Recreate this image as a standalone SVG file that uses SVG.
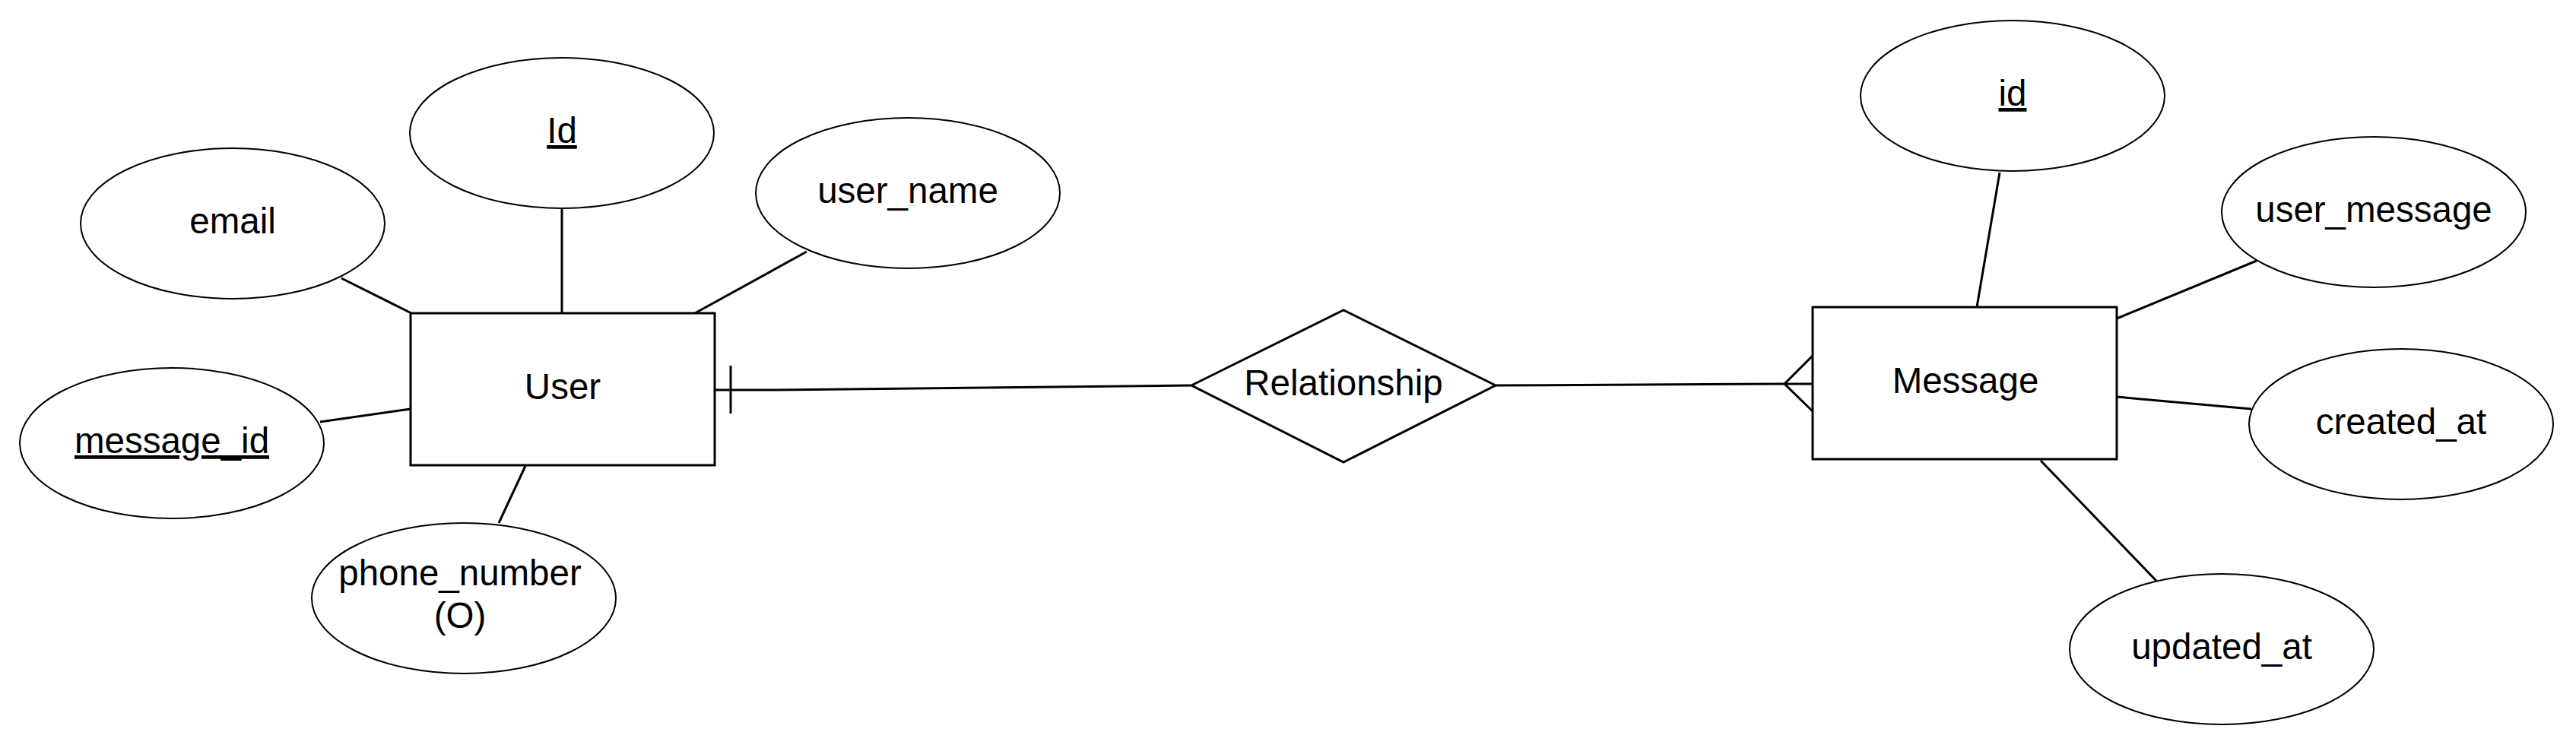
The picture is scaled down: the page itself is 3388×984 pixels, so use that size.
<svg xmlns="http://www.w3.org/2000/svg" width="3388" height="984" viewBox="0 0 3388 984">
<style>
.bg{fill:#fff}
.ent{fill:#fff;stroke:#000;stroke-width:3}
.att{fill:#fff;stroke:#000;stroke-width:2}
.rel{fill:#fff;stroke:#000;stroke-width:3}
.con{fill:none;stroke:#000;stroke-width:3}
text{font-family:"Liberation Sans",Arial,sans-serif;font-size:47.5px;fill:#000;text-anchor:middle}
.u{text-decoration:underline}
</style>
<rect class="bg" x="0" y="0" width="3388" height="984"/>
<g id="connectors">
<line class="con" x1="449" y1="366" x2="541" y2="412"/>
<line class="con" x1="739" y1="274" x2="739" y2="412"/>
<line class="con" x1="1061" y1="331" x2="914" y2="412"/>
<line class="con" x1="421" y1="555" x2="540" y2="538"/>
<line class="con" x1="691" y1="613" x2="656" y2="688"/>
<polyline class="con" points="941,513 1020,513 1567,507"/>
<line class="con" x1="961" y1="481" x2="961" y2="544"/>
<polyline class="con" points="1967,507 2347,505 2384,505"/>
<polyline class="con" points="2384,468 2347,505 2384,541"/>
<line class="con" x1="2630" y1="227" x2="2600" y2="404"/>
<line class="con" x1="2968" y1="343" x2="2784" y2="419"/>
<line class="con" x1="2961" y1="538" x2="2784" y2="522"/>
<line class="con" x1="2684" y1="606" x2="2836" y2="764"/>
</g>
<g id="user">
<rect class="ent" x="540" y="412" width="400" height="200"/>
<text x="740" y="525">User</text>
</g>
<g id="user-id">
<ellipse class="att" cx="739" cy="175" rx="200" ry="99"/>
<text class="u" x="739" y="188">Id</text>
</g>
<g id="user-email">
<ellipse class="att" cx="306" cy="294" rx="200" ry="99"/>
<text x="306" y="307">email</text>
</g>
<g id="user-name">
<ellipse class="att" cx="1194" cy="254" rx="200" ry="99"/>
<text x="1194" y="267">user_name</text>
</g>
<g id="user-message-id">
<ellipse class="att" cx="226" cy="583" rx="200" ry="99"/>
<text class="u" x="226" y="596">message_id</text>
</g>
<g id="user-phone">
<ellipse class="att" cx="610" cy="787" rx="200" ry="99"/>
<text x="605" y="770">phone_number</text>
<text x="605" y="826">(O)</text>
</g>
<g id="relationship">
<polygon class="rel" points="1567,507 1767,408 1967,507 1767,608"/>
<text x="1767" y="520">Relationship</text>
</g>
<g id="message">
<rect class="ent" x="2384" y="404" width="400" height="200"/>
<text x="2585" y="517">Message</text>
</g>
<g id="message-id">
<ellipse class="att" cx="2647" cy="126" rx="200" ry="99"/>
<text class="u" x="2647" y="139">id</text>
</g>
<g id="message-user-message">
<ellipse class="att" cx="3122" cy="279" rx="200" ry="99"/>
<text x="3122" y="292">user_message</text>
</g>
<g id="message-created-at">
<ellipse class="att" cx="3158" cy="558" rx="200" ry="99"/>
<text x="3158" y="571">created_at</text>
</g>
<g id="message-updated-at">
<ellipse class="att" cx="2922" cy="854" rx="200" ry="99"/>
<text x="2922" y="867">updated_at</text>
</g>
</svg>
